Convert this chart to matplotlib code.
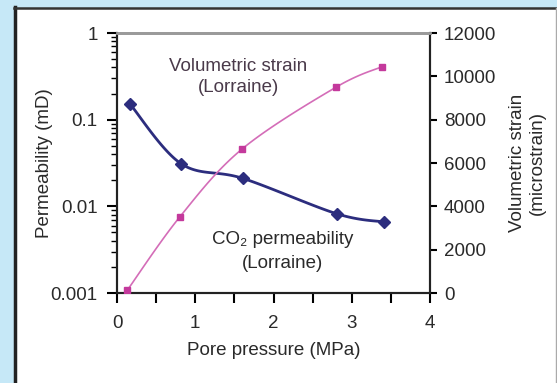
import numpy as np
import matplotlib
matplotlib.use("Agg")
import matplotlib.pyplot as plt
from matplotlib.patches import Rectangle
from matplotlib.lines import Line2D
from matplotlib.ticker import FixedLocator, NullFormatter, LogLocator

plt.rcParams['font.family'] = ['Liberation Sans', 'DejaVu Sans']

# data
pressure_perm = [0.17, 0.82, 1.61, 2.81, 3.41]
permeability = [0.15, 0.031, 0.021, 0.0082, 0.0066]
pressure_strain = [0.13, 0.80, 1.60, 2.80, 3.39]
strain = [120, 3500, 6650, 9500, 10450]

x_ticks = [0, 1, 2, 3, 4]
perm_ticks = [0.001, 0.01, 0.1, 1]
perm_labels = ['0.001', '0.01', '0.1', '1']
strain_ticks = [0, 2000, 4000, 6000, 8000, 10000, 12000]

BLUE = '#2c2d7e'
PINK = '#c4399c'
PINK_LINE = '#d46db8'
TXT = '#2a2a2a'
FS = 13.5


def smooth(xs, ys, n=30):
    # Catmull-Rom spline like Excel "smoothed line"
    p = np.column_stack([xs, ys]).astype(float)
    p = np.vstack([p[0], p, p[-1]])
    out = []
    t = np.linspace(0, 1, n)[:, None]
    for i in range(1, len(p) - 2):
        p0, p1, p2, p3 = p[i - 1], p[i], p[i + 1], p[i + 2]
        seg = 0.5 * ((2 * p1) + (-p0 + p2) * t + (2 * p0 - 5 * p1 + 4 * p2 - p3) * t ** 2
                     + (-p0 + 3 * p1 - 3 * p2 + p3) * t ** 3)
        out.append(seg)
    s = np.vstack(out)
    return s[:, 0], s[:, 1]


fig = plt.figure(figsize=(5.57, 3.83), dpi=100)
fig.patch.set_facecolor('#c6e8f7')
W, H = 557, 383

# white panel with dark border
fig.patches.append(Rectangle((14 / W, 0), (556 - 14) / W, (H - 8) / H,
                             transform=fig.transFigure, facecolor='white', edgecolor='none', zorder=-10))
fig.lines.append(Line2D([14.5 / W, 14.5 / W], [0, (H - 7) / H], transform=fig.transFigure,
                        color='#222222', lw=2.5, zorder=-5))
fig.lines.append(Line2D([14 / W, 556 / W], [(H - 8) / H, (H - 8) / H], transform=fig.transFigure,
                        color='#333333', lw=1.8, zorder=-5))
fig.lines.append(Line2D([556 / W, 556 / W], [0, (H - 8) / H], transform=fig.transFigure,
                        color='#aaaaaa', lw=1, zorder=-5))

ax = fig.add_axes([117 / W, 1 - 293 / H, (430 - 117) / W, (293 - 33) / H])
ax.set_facecolor('white')
ax2 = ax.twinx()

# permeability, log axis
ax.set_yscale('log')
ax.set_ylim(0.001, 1)
ax.set_xlim(0, 4)
sx, sy = smooth(pressure_perm, np.log10(permeability))
ax.plot(sx, 10 ** sy, color=BLUE, lw=2, zorder=3)
ax.plot(pressure_perm, permeability, ls='none', marker='D', ms=6.5, color=BLUE, zorder=4)

# volumetric strain
ax2.set_ylim(0, 12000)
sx2, sy2 = smooth(pressure_strain, strain)
ax2.plot(sx2, sy2, color=PINK_LINE, lw=1.2, zorder=3)
ax2.plot(pressure_strain, strain, ls='none', marker='s', ms=5, color=PINK, zorder=4)

ax.yaxis.set_major_locator(FixedLocator(perm_ticks))
ax.set_yticklabels(perm_labels)
ax.yaxis.set_minor_locator(LogLocator(base=10, subs=np.arange(2, 10)))
ax.yaxis.set_minor_formatter(NullFormatter())
ax.set_xticks(x_ticks)
ax.xaxis.set_minor_locator(FixedLocator([0.5, 1.5, 2.5, 3.5]))
ax2.set_yticks(strain_ticks)

ax.tick_params(axis='y', which='major', direction='out', length=7, width=1.5, pad=7,
               labelsize=FS, labelcolor=TXT)
ax.tick_params(axis='y', which='minor', direction='out', length=4.5, width=1)
ax.tick_params(axis='x', which='both', direction='out', length=7, width=1.5, pad=9,
               labelsize=FS, labelcolor=TXT)
ax2.tick_params(axis='y', direction='out', length=5, width=1.5, pad=5,
                labelsize=FS, labelcolor=TXT)

for a in (ax, ax2):
    for side in ('left', 'bottom', 'right'):
        a.spines[side].set_color('#222222')
        a.spines[side].set_linewidth(1.5)
    a.spines['top'].set_color('#9a9a9a')
    a.spines['top'].set_linewidth(2)

ax.set_xlabel('Pore pressure (MPa)', fontsize=FS, color=TXT, labelpad=7)
ax.set_ylabel('Permeability (mD)', fontsize=FS, color=TXT, labelpad=-2)
ax2.set_ylabel('Volumetric strain\n(microstrain)', fontsize=FS, color=TXT, labelpad=9,
               linespacing=1.25)

ax.text(1.55, 0.31, 'Volumetric strain\n(Lorraine)', fontsize=FS, color='#4a3a4a',
        ha='center', va='center', linespacing=1.3)
ax.text(2.12, 0.0030, 'CO₂ permeability\n(Lorraine)', fontsize=FS, color=TXT,
        ha='center', va='center', linespacing=1.5)

fig.savefig('out.png', dpi=100, facecolor=fig.get_facecolor())
